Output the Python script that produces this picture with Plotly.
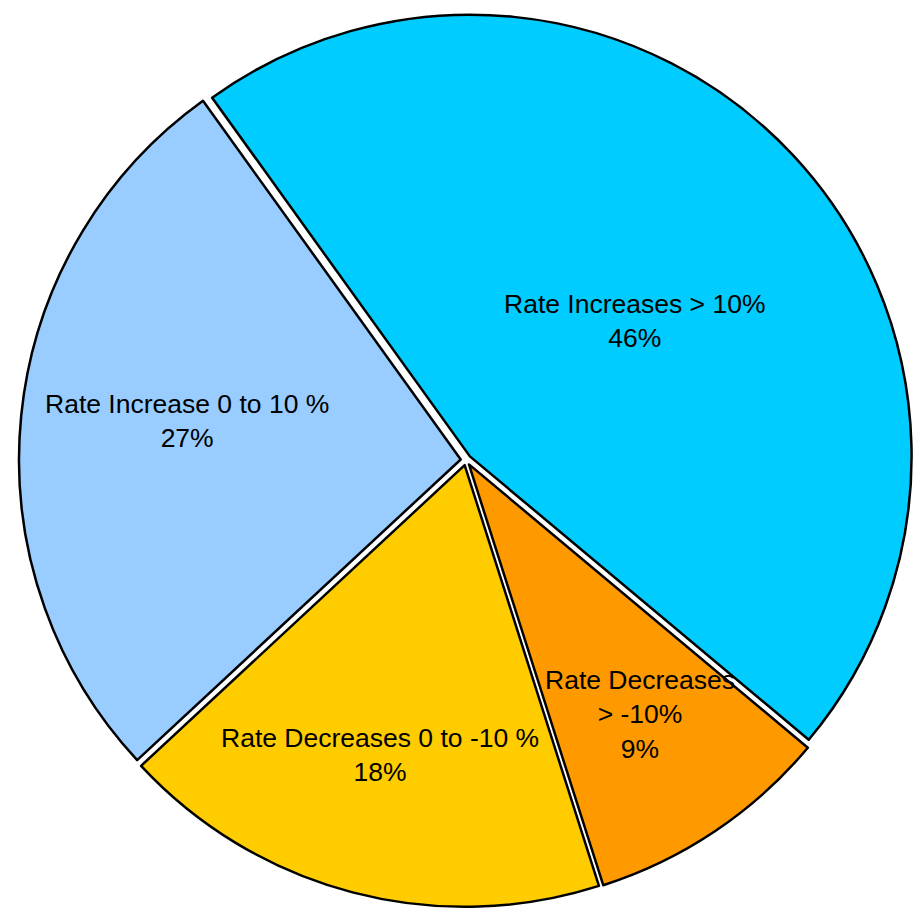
import math
import plotly.graph_objects as go

# Share of rate changes
labels = [
    "Rate Increases > 10%",
    "Rate Decreases<br>> -10%",
    "Rate Decreases 0 to -10 %",
    "Rate Increase 0 to 10 %",
]
shares = [46, 9, 18, 27]
colors = ["#00CCFF", "#FF9900", "#FFCC00", "#99CCFF"]

# Label placement: fraction of the radius and angular nudge (degrees) from the bisector
label_radius = [0.495, 0.697, 0.696, 0.638]
label_nudge = [3.5, -0.5, 1.6, 2.3]

W, H = 913, 913
MARGIN = dict(l=0, r=0, t=7, b=0)
DOMAIN_X = [0.0208, 1.0]
DOMAIN_Y = [0.0, 1.0]
ROTATION = -35.7
PULL = 0.012
FONT = dict(family="Liberation Sans, Arial, sans-serif", size=26.5, color="black")

fig = go.Figure(
    go.Pie(
        labels=labels,
        values=shares,
        sort=False,
        direction="clockwise",
        rotation=ROTATION,
        pull=PULL,
        marker=dict(colors=colors, line=dict(color="black", width=2.5)),
        textinfo="none",
        hoverinfo="label+percent",
        showlegend=False,
        domain=dict(x=DOMAIN_X, y=DOMAIN_Y),
    )
)

# Pie geometry (same rules plotly uses to size and centre the pie)
plot_w = W - MARGIN["l"] - MARGIN["r"]
plot_h = H - MARGIN["t"] - MARGIN["b"]
avail_w = plot_w * (DOMAIN_X[1] - DOMAIN_X[0])
avail_h = plot_h * (DOMAIN_Y[1] - DOMAIN_Y[0])
radius = min(avail_w, avail_h) / (2 + 2 * PULL)
cx = plot_w * (DOMAIN_X[0] + DOMAIN_X[1]) / 2
cy = plot_h * (1 - DOMAIN_Y[0]) - avail_h / 2

# Slice labels placed along each slice's bisector
total = sum(shares)
start = ROTATION
for lab, val, frac, nudge in zip(labels, shares, label_radius, label_nudge):
    span = 360 * val / total
    mid = math.radians(start + span / 2 + nudge)
    start += span
    px = cx + frac * radius * math.sin(mid)
    py = cy - frac * radius * math.cos(mid)
    fig.add_annotation(
        x=px / plot_w,
        y=1 - py / plot_h,
        xref="paper",
        yref="paper",
        text=f"{lab}<br>{round(100 * val / total)}%",
        showarrow=False,
        xanchor="center",
        yanchor="middle",
        align="center",
        font=FONT,
    )

fig.update_layout(
    width=W,
    height=H,
    margin=MARGIN,
    paper_bgcolor="white",
    plot_bgcolor="white",
)

fig.write_html("out.html")
